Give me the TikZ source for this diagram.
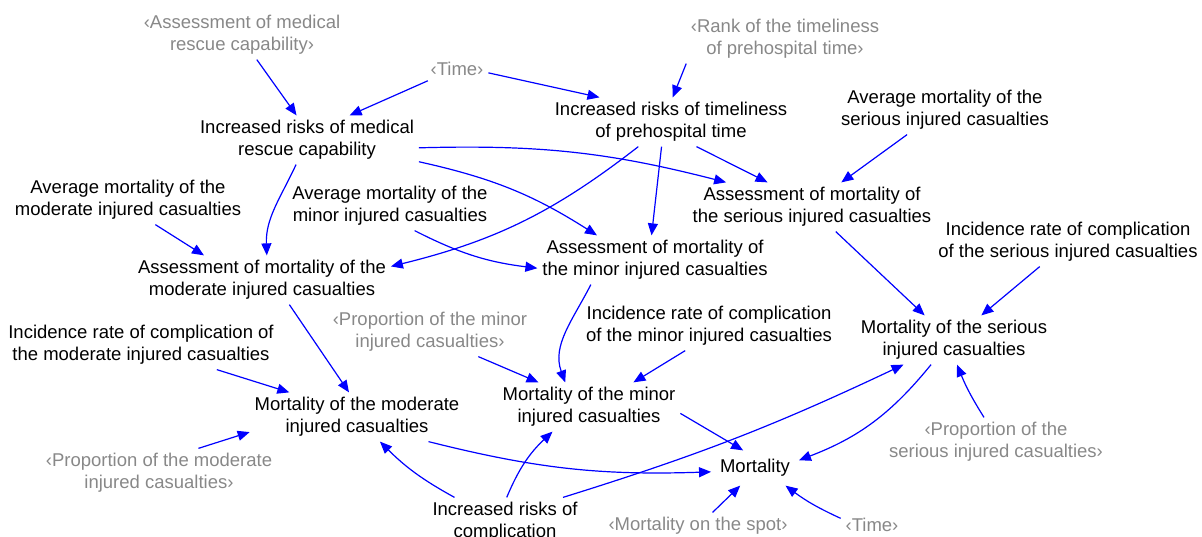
\documentclass[tikz,border=0pt]{standalone}
\usepackage{fontspec}
\setmainfont{Liberation Sans}
\usetikzlibrary{arrows.meta}
\definecolor{lbl}{RGB}{136,136,136}
\definecolor{arrowblue}{RGB}{0,0,255}
\begin{document}
\begin{tikzpicture}[x=1pt,y=1pt,
  var/.style={align=center, inner sep=2pt, outer sep=3pt, font=\fontsize{18.5}{22}\selectfont, text=black},
  shadow/.style={var, text=lbl},
  arr/.style={draw=arrowblue, line width=1.2pt, -{Triangle[length=12pt,width=10pt]}}]
\useasboundingbox (0,0) rectangle (1202,-537);
% nodes
\node[shadow] (amrc)  at (242,-35)  {‹Assessment of medical\\rescue capability›};
\node[shadow] (time1) at (457,-69)  {‹Time›};
\node[shadow] (rank)  at (785,-39)  {‹Rank of the timeliness\\of prehospital time›};
\node[var] (irmrc) at (307,-140) {Increased risks of medical\\rescue capability};
\node[var] (irtpt) at (671,-122) {Increased risks of timeliness\\of prehospital time};
\node[var] (avser) at (945,-110) {Average mortality of the\\serious injured casualties};
\node[var] (avmod) at (128,-200) {Average mortality of the\\moderate injured casualties};
\node[var] (avmin) at (390,-206) {Average mortality of the\\minor injured casualties};
\node[var] (asser) at (812,-207) {Assessment of mortality of\\the serious injured casualties};
\node[var] (amin)  at (655,-260) {Assessment of mortality of\\the minor injured casualties};
\node[var] (amod)  at (262,-280) {Assessment of mortality of the\\moderate injured casualties};
\node[var] (irser) at (1068,-242) {Incidence rate of complication\\of the serious injured casualties};
\node[shadow] (prmin) at (430,-332) {‹Proportion of the minor\\injured casualties›};
\node[var] (irmin) at (709,-326) {Incidence rate of complication\\of the minor injured casualties};
\node[var] (irmod) at (141,-345) {Incidence rate of complication of\\the moderate injured casualties};
\node[var] (mser)  at (954,-340) {Mortality of the serious\\injured casualties};
\node[var] (mmin)  at (589,-407) {Mortality of the minor\\injured casualties};
\node[var] (mmod)  at (357,-417) {Mortality of the moderate\\injured casualties};
\node[shadow] (prser) at (996,-442) {‹Proportion of the\\serious injured casualties›};
\node[shadow] (prmod) at (159,-473) {‹Proportion of the moderate\\injured casualties›};
\node[var, outer sep=7pt] (mort) at (755,-468) {Mortality};
\node[var] (irc)   at (505,-522) {Increased risks of\\complication};
\node[shadow] (mots)  at (698,-526) {‹Mortality on the spot›};
\node[shadow] (time2) at (872,-525) {‹Time›};
% connectors
\draw[arr] (amrc.-59) -- (irmrc.113);
\draw[arr] (time1.202) -- (irmrc.30);
\draw[arr] (irmrc.246) to[out=-115,in=92] (amod.79);
\draw[arr] (avmod.-42) -- (amod.157);
\draw[arr] (irmrc.-4) to[bend left=8] (asser.164);
\draw[arr] (irmrc.-11) to[bend left=10] (amin.157);
\draw[arr] (time1.-7) -- (irtpt.161);
\draw[arr] (rank.194) -- (irtpt.86);
\draw[arr] (irtpt.-44) -- (asser.151);
\draw[arr] (irtpt.-111) -- (amin.98);
\draw[arr] (irtpt.-143) to[bend left=12] (amod.6);
\draw[arr] (avser.213) -- (asser.40);
\draw[arr] (asser.-46) -- (mser.140);
\draw[arr] (irser.221) -- (mser.42);
\draw[arr] (avmin.-45) to[bend right=10] (amin.184);
\draw[arr] (amin.201) to[out=-117,in=110] (mmin.134);
\draw[arr] (prmin.-27) -- (mmin.154);
\draw[arr] (irmin.226) -- (mmin.29);
\draw[arr] (amod.-42) -- (mmod.108);
\draw[arr] (irmod.-18) -- (mmod.160);
\draw[arr] (prmod.32) -- (mmod.188);
\draw[arr] (irc.154) to[bend left=8] (mmod.-47);
\draw[arr] (mmod.-19) to[bend right=8] (mort.185);
\draw[arr] (irc.86) to[bend left=12] (mmin.214);
\draw[arr] (irc.23) to[bend right=4] (mser.206);
\draw[arr] (mmin.-4.5) -- (mort.124);
\draw[arr] (mser.227) to[bend left=15] (mort.10);
\draw[arr] (prser.116) to[bend left=5] (mser.-83);
\draw[arr] (mots.43) -- (mort.230);
\draw[arr] (time2.168) to[bend left=6] (mort.-30);
\end{tikzpicture}
\end{document}
